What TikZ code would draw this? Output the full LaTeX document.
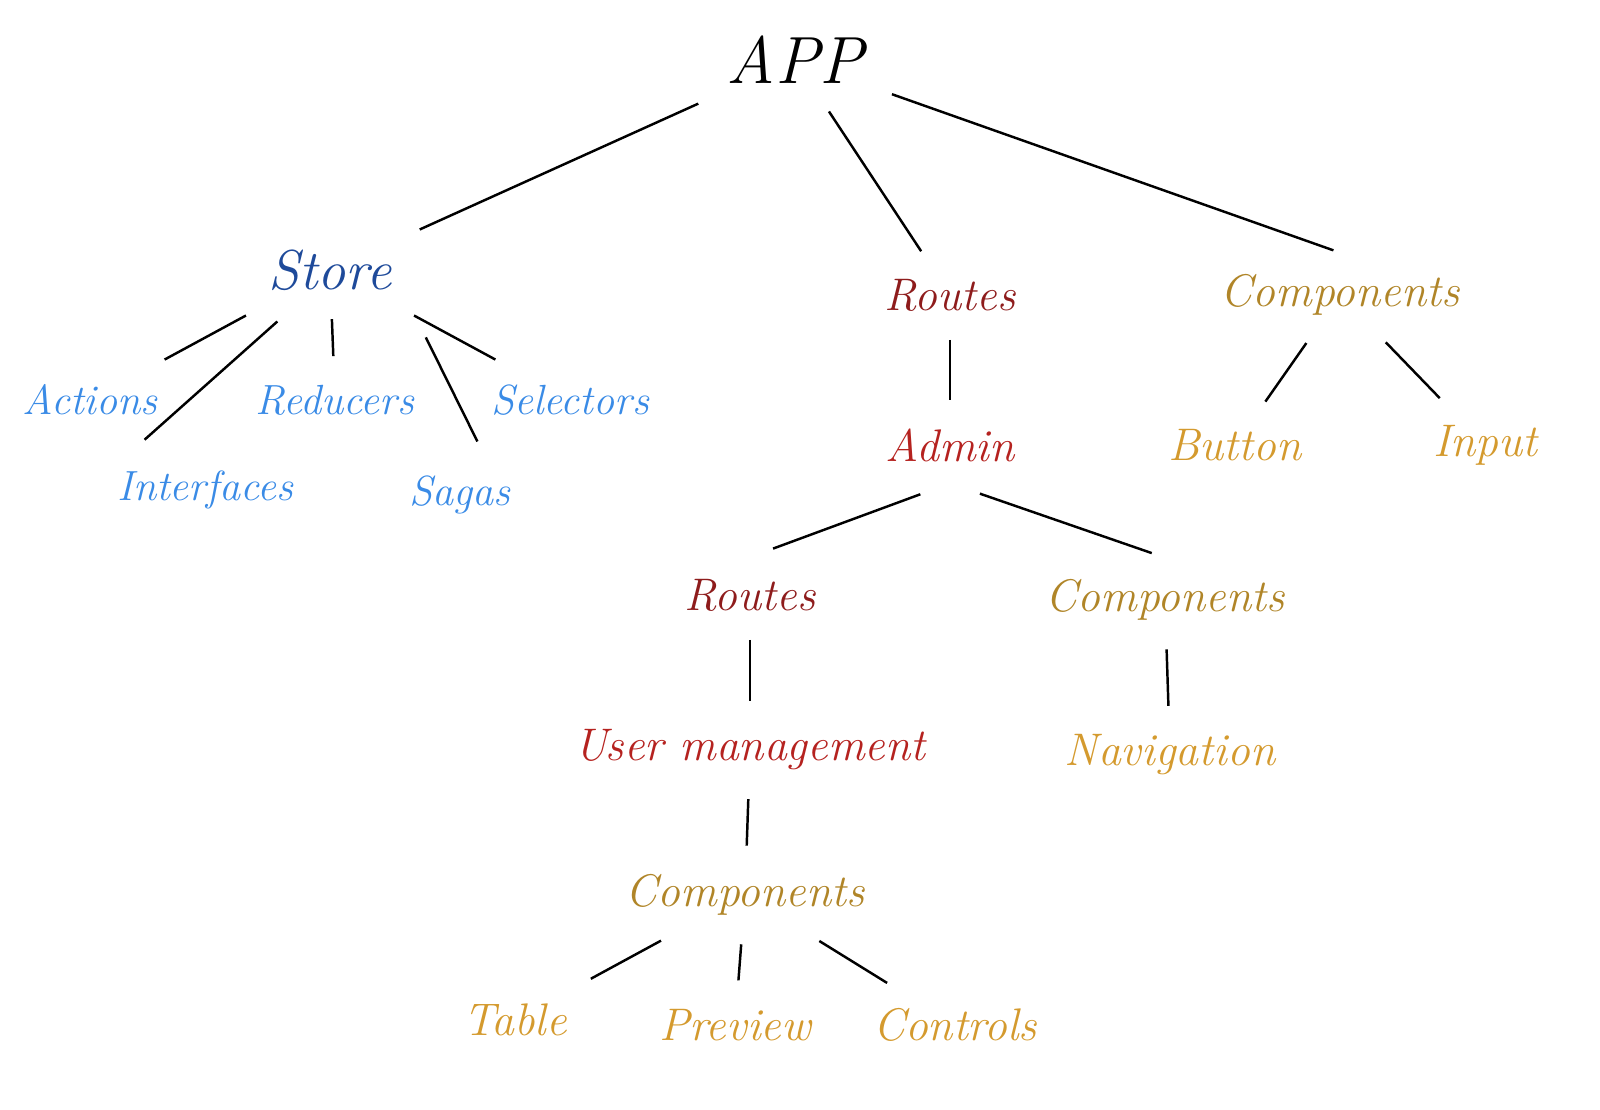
\documentclass[tikz,border=0pt]{standalone}
\usetikzlibrary{positioning}
\definecolor{storeblue}{HTML}{1E4A9A}
\definecolor{lightblue}{HTML}{3A8BE6}
\definecolor{darkred}{HTML}{8E1C1C}
\definecolor{brightred}{HTML}{B5221F}
\definecolor{olive}{HTML}{B08528}
\definecolor{gold}{HTML}{D49A2E}
\begin{document}
\begin{tikzpicture}[
    lbl/.style={font=\itshape\fontsize{13}{15}\selectfont, inner sep=6pt},
    small/.style={lbl, lightblue, font=\itshape\fontsize{12}{14}\selectfont},
    edge/.style={line width=0.7pt, shorten <=2pt, shorten >=2pt}
  ]
  \useasboundingbox (0,0) rectangle (16,11.09);
  % top
  \node[lbl, font=\itshape\fontsize{19}{22}\selectfont] (app) at (7.95,10.49) {APP};
  \node[lbl, storeblue, font=\itshape\fontsize{16}{19}\selectfont] (store) at (3.3,8.39) {Store};
  \node[lbl, darkred] (routes) at (9.5,8.14) {Routes};
  \node[lbl, olive] (comps) at (13.4,8.14) {Components};
  % store
  \node[small] (actions) at (0.9,7.09) {Actions};
  \node[small] (interfaces) at (2.05,6.19) {Interfaces};
  \node[small] (reducers) at (3.35,7.09) {Reducers};
  \node[small] (sagas) at (4.6,6.14) {Sagas};
  \node[small] (selectors) at (5.7,7.09) {Selectors};
  % routes
  \node[lbl, brightred] (admin) at (9.5,6.64) {Admin};
  \node[lbl, darkred] (routesb) at (7.5,5.14) {Routes};
  \node[lbl, olive] (compsb) at (11.65,5.09) {Components};
  \node[lbl, brightred] (user) at (7.5,3.59) {User management};
  \node[lbl, gold] (nav) at (11.7,3.54) {Navigation};
  \node[lbl, olive] (compsc) at (7.45,2.14) {Components};
  \node[lbl, gold] (table) at (5.15,0.89) {Table};
  \node[lbl, gold] (preview) at (7.35,0.84) {Preview};
  \node[lbl, gold] (controls) at (9.55,0.84) {Controls};
  % components
  \node[lbl, gold] (button) at (12.35,6.64) {Button};
  \node[lbl, gold] (input) at (14.85,6.64) {Input};

  \draw[edge] (app) -- (store);
  \draw[edge] (app) -- (routes);
  \draw[edge] (app) -- (comps.north);
  \draw[edge] (store) -- (actions);
  \draw[edge, shorten <=4pt, shorten >=4pt] (store.-135) -- (interfaces.150);
  \draw[edge] (store) -- (reducers);
  \draw[edge, shorten <=8pt, shorten >=4pt] (store.south east) -- (sagas.60);
  \draw[edge] (store) -- (selectors);
  \draw[edge] (routes) -- (admin);
  \draw[edge] (comps) -- (button);
  \draw[edge] (comps) -- (input);
  \draw[edge, shorten <=9pt, shorten >=7pt] (admin.south) -- (routesb.north);
  \draw[edge, shorten <=9pt, shorten >=4pt] (admin.south) -- (compsb.north);
  \draw[edge] (routesb) -- (user);
  \draw[edge] (compsb) -- (nav);
  \draw[edge] (user) -- (compsc);
  \draw[edge] (compsc) -- (table);
  \draw[edge] (compsc) -- (preview);
  \draw[edge] (compsc) -- (controls);
\end{tikzpicture}
\end{document}
